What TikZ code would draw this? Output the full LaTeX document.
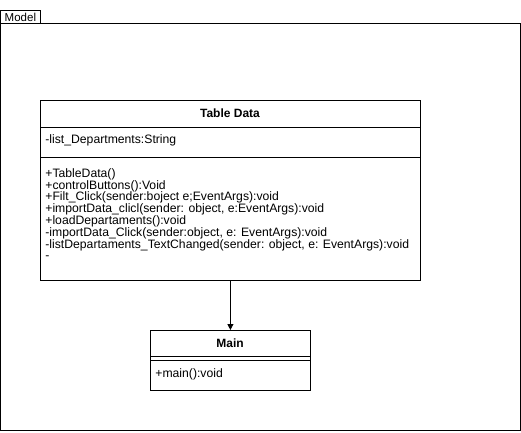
\documentclass[tikz,border=0pt]{standalone}
\usepackage{fontspec}
\setmainfont{Liberation Sans}
\usetikzlibrary{arrows.meta}
\begin{document}
\begin{tikzpicture}[x=1pt,y=-1pt,line width=0.8pt,
  box/.style={draw,inner sep=0pt},
  member/.style={inner sep=0pt,anchor=north west,align=left,font=\fontsize{12.2}{11.8}\selectfont},
  title/.style={inner sep=0pt,font=\fontsize{12}{12}\selectfont\bfseries}]
\useasboundingbox (0,0) rectangle (521,432);
% frame
\draw (0,23) rectangle (520,430);
\node[box,minimum width=40pt,minimum height=13pt,anchor=north west,font=\fontsize{11.5}{12}\selectfont] (model) at (0,10) {Model};
% Table Data
\node[box,minimum width=380pt,minimum height=180pt,anchor=north west] (tabledata) at (40,100) {};
\node[title] (tdtitle) at (230,113) {Table Data};
\draw (40,127) -- (420,127);
\draw (40,157) -- (420,157);
\node[member] (tdattr) at (45,134) {-list\_Departments:String};
\node[member] (tdops) at (45,168) {+TableData()\\
+controlButtons():Void\\
+Filt\_Click(sender:boject e;EventArgs):void\\
+importData\_clicl(sender: object, e:EventArgs):void\\
+loadDepartaments():void\\
-importData\_Click(sender:object, e: EventArgs):void\\
-listDepartaments\_TextChanged(sender: object, e: EventArgs):void\\
-};
% Main
\node[box,minimum width=160pt,minimum height=60pt,anchor=north west] (main) at (150,330) {};
\node[title] (maintitle) at (230,343) {Main};
\draw (150,356) -- (310,356);
\draw (150,360) -- (310,360);
\node[member] (mainops) at (155,368) {+main():void};
% connector
\draw[-{Triangle[width=6pt,length=6pt]}] (tabledata.south) -- (main.north);
\end{tikzpicture}
\end{document}
